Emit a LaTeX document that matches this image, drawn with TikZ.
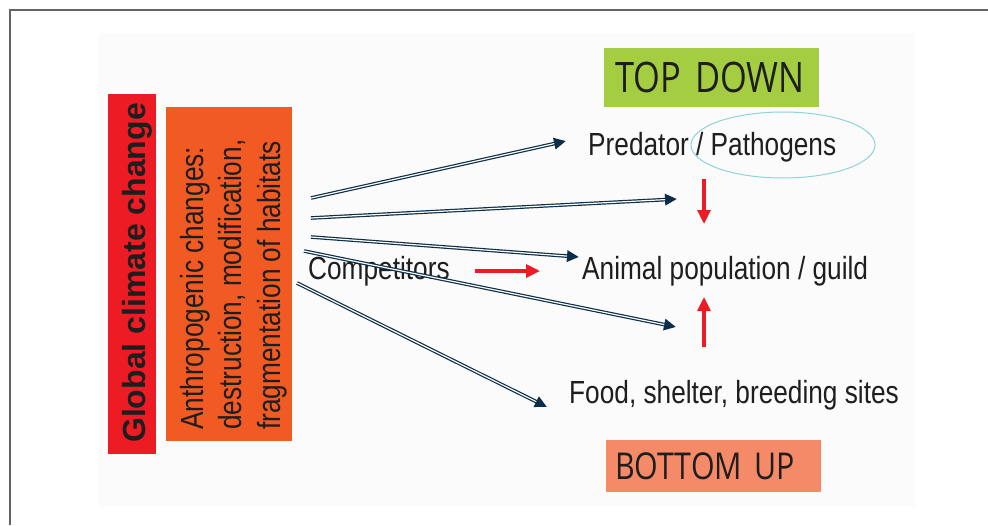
\documentclass[tikz,border=0pt]{standalone}
\usepackage{fontspec}
\setmainfont{Liberation Sans}
\newfontfamily\narrowfont[FakeStretch=0.82]{Liberation Sans}
\newfontfamily\boxfont[FakeStretch=0.82]{Open Sans}
\usetikzlibrary{positioning,arrows.meta}
\definecolor{FrameGray}{RGB}{100,100,100}
\definecolor{PanelGray}{RGB}{251,251,251}
\definecolor{ClimRed}{RGB}{237,28,36}
\definecolor{AnthOrange}{RGB}{241,90,34}
\definecolor{TopGreen}{RGB}{165,205,66}
\definecolor{BotSalmon}{RGB}{245,138,104}
\definecolor{ArrowNavy}{RGB}{12,45,72}
\definecolor{PathCyan}{RGB}{142,211,219}
\definecolor{InkDark}{RGB}{30,30,30}
\tikzset{
  lbl/.style={inner sep=0pt,anchor=base west,text=InkDark,font=\narrowfont\fontsize{32}{38}\selectfont},
  levelbox/.style={anchor=north west,inner ysep=0pt,align=left,text=InkDark},
  navyedge/.style={draw=ArrowNavy,line width=3.6pt,-{Triangle[length=12pt,width=11pt]},
    postaction={draw=white,line width=1.2pt,-,shorten >=12pt}},
  redarrow/.style={draw=ClimRed,line width=3.2pt,-{Triangle[length=14pt,width=13pt]}},
}
\begin{document}
\begin{tikzpicture}[x=1pt,y=-1pt]
  \useasboundingbox (0,0) rectangle (988,525);
  \draw[FrameGray,line width=2pt] (10,525) -- (10,10) -- (988,10);
  \fill[PanelGray] (98,33) rectangle (915,507);
  \fill[ClimRed] (108,94) rectangle (156,454);
  \fill[AnthOrange] (166,107) rectangle (292,441);
  \node[rotate=90,anchor=base,inner sep=0pt,text=InkDark,font=\bfseries\fontsize{32}{38}\selectfont] (climate) at (145,273) {Global climate change};
  \node[rotate=90,anchor=north west,inner sep=0pt,align=left,text=InkDark,font=\narrowfont\fontsize{32}{38.5}\selectfont] (anthro) at (180,430) {Anthropogenic changes:\\destruction, modification,\\fragmentation of habitats};
  \node[levelbox,fill=TopGreen,inner xsep=11pt,text width=193pt,minimum height=59pt,font=\boxfont\fontsize{42}{48}\selectfont] (topdown) at (604,48) {TOP DOWN};
  \node[levelbox,fill=BotSalmon,inner xsep=9pt,text width=197pt,minimum height=52pt,font=\boxfont\fontsize{37}{44}\selectfont] (bottomup) at (606,440) {BOTTOM UP};
  \node[lbl] (pred) at (588,155) {Predator / Pathogens};
  \node[lbl] (animal) at (582,279) {Animal population / guild};
  \node[lbl] (food) at (569,403) {Food, shelter, breeding sites};
  \node[lbl] (comp) at (308,279) {Competitors};
  \draw[PathCyan,line width=1pt] (783,145) ellipse [x radius=92pt,y radius=33pt];
  \foreach \i/\a/\b/\c/\d in {1/311/198/566/141,2/311/218/677/199,3/311/237/579/257,4/304/251/676/327,5/297/283/547/407} {\coordinate (s\i) at (\a,\b); \coordinate (t\i) at (\c,\d); \draw[navyedge] (s\i) -- (t\i);}
  \coordinate (downA) at (704,179);
  \coordinate (downB) at (704,224);
  \coordinate (upA) at (704,347);
  \coordinate (upB) at (704,297);
  \coordinate (compA) at (475,271);
  \coordinate (compB) at (540,271);
  \draw[redarrow] (downA) -- (downB);
  \draw[redarrow] (upA) -- (upB);
  \draw[redarrow] (compA) -- (compB);
\end{tikzpicture}
\end{document}
